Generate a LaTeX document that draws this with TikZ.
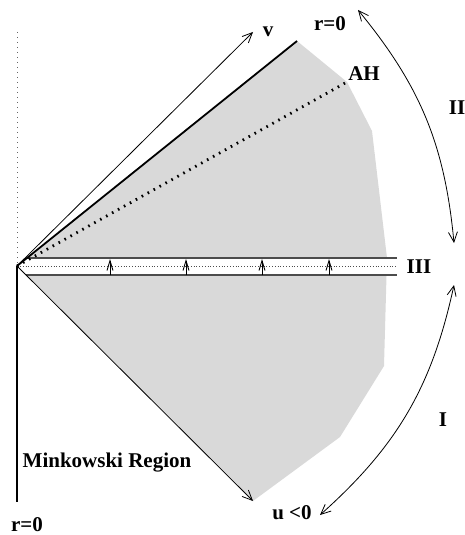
\documentclass[tikz,border=0pt]{standalone}
\usepackage{fontspec}
\setmainfont{Liberation Serif}
\usetikzlibrary{arrows.meta}

\begin{document}
\begin{tikzpicture}[x=0.5pt,y=-0.5pt,
    lbl/.style={font=\fontsize{10.5}{12}\selectfont\bfseries,inner sep=0pt},
    ray/.style={-{Straight Barb[length=5pt,width=4.5pt]},line width=0.4pt},
    span/.style={{Straight Barb[length=5pt,width=4.5pt]}-{Straight Barb[length=5pt,width=4.5pt]},line width=0.4pt},
    tick/.style={-{Straight Barb[length=5pt,width=3pt]},line width=0.45pt},
    region/.style={fill=gray!30,draw=none},
    stripline/.style={draw=black!70,line width=0.6pt}
]
\useasboundingbox (0,0) rectangle (465,535);
% corner points
\coordinate (O) at (17,266);
\coordinate (vtip) at (253,32);
\coordinate (utip) at (253,501);
\coordinate (rtop) at (297,41);
\coordinate (ah) at (347,82);
\coordinate (rbot) at (17,502);
\coordinate (axtop) at (17,32);
\coordinate (stripL) at (17,258);
\coordinate (stripR) at (397,275);
% shaded region
\fill[region] (O) -- (rtop) -- (ah) -- (372,131) -- (387,258) -- (384,366)
    -- (340,437) -- (utip) -- cycle;
\fill[white] (stripL) rectangle (stripR);
% strip
\draw[stripline] (27,258) -- (397,258);
\draw[stripline] (26,275) -- (397,275);
\draw[densely dotted,black!70,line width=0.4pt] (20,266.5) -- (397,266.5);
\foreach \x in {110,186,262,329}
  \draw[tick] (\x,275) -- (\x,259);
% axes and rays
\draw[dotted,black!60,line width=0.5pt] (axtop) -- (O);
\draw[line width=1pt] (O) -- (rbot);
\draw[line width=0.9pt] (O) -- (rtop);
\draw[line width=1.4pt,dash pattern=on 0.8pt off 2.6pt] (O) -- (ah);
\draw[ray] (O) -- (vtip);
\draw[ray] (O) -- (utip);
% regions along the boundary
\coordinate (IItop) at (358,10);
\coordinate (IIbot) at (454,243);
\coordinate (Itop) at (454,285);
\coordinate (Ibot) at (320,515);
\draw[span] (IItop) to[bend left=17] (IIbot);
\draw[span] (Itop) to[bend left=18] (Ibot);
% labels
\node[lbl] (vlbl) at (268,32) {v};
\node[lbl] (rtoplbl) at (330,24) {r=0};
\node[lbl] (ahlbl) at (364,74) {AH};
\node[lbl] (IIlbl) at (457,108) {II};
\node[lbl] (IIIlbl) at (419,267) {III};
\node[lbl] (Ilbl) at (443,420) {I};
\node[lbl] (ulbl) at (292,513) {u <0};
\node[lbl] (minklbl) at (107,463) {Minkowski Region};
\node[lbl] (rbotlbl) at (27,525) {r=0};
\end{tikzpicture}
\end{document}
